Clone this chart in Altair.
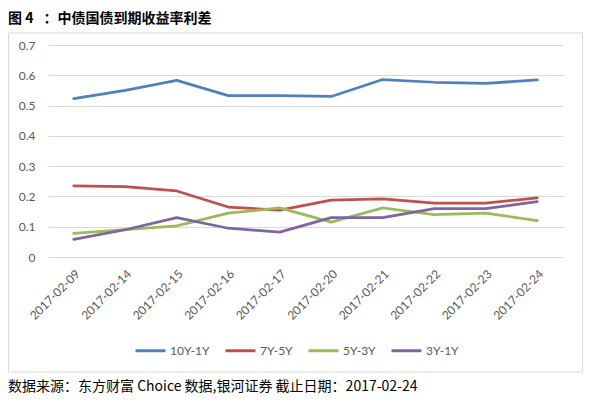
import altair as alt
import pandas as pd

dates = ["2017-02-09", "2017-02-14", "2017-02-15", "2017-02-16", "2017-02-17",
         "2017-02-20", "2017-02-21", "2017-02-22", "2017-02-23", "2017-02-24"]
s10_1 = [0.523, 0.550, 0.583, 0.533, 0.533, 0.530, 0.586, 0.577, 0.573, 0.585]
s7_5 = [0.235, 0.232, 0.218, 0.165, 0.155, 0.188, 0.192, 0.178, 0.178, 0.195]
s5_3 = [0.078, 0.090, 0.103, 0.145, 0.162, 0.115, 0.162, 0.140, 0.145, 0.120]
s3_1 = [0.058, 0.090, 0.130, 0.095, 0.082, 0.130, 0.130, 0.160, 0.160, 0.183]
series_names = ["10Y-1Y", "7Y-5Y", "5Y-3Y", "3Y-1Y"]
colors = ["#4F81BD", "#C0504D", "#9BBB59", "#8064A2"]
y_ticks = [0, 0.1, 0.2, 0.3, 0.4, 0.5, 0.6, 0.7]
title_text = "图 4 \u2002：中债国债到期收益率利差"
footer_text = "数据来源：东方财富 Choice 数据,银河证券  截止日期：2017-02-24"

rows = []
for name, vals in zip(series_names, [s10_1, s7_5, s5_3, s3_1]):
    for d, v in zip(dates, vals):
        rows.append({"date": d, "series": name, "value": v})
df = pd.DataFrame(rows)

lab_font = "Lato"

lines = alt.Chart(df).mark_line(strokeWidth=2.75, strokeJoin="round", strokeCap="round").encode(
    x=alt.X("date:N", sort=dates,
            scale=alt.Scale(type="point", padding=0.5),
            axis=alt.Axis(title=None, labelAngle=-45, grid=False, ticks=False, domain=False,
                          labelPadding=11, labelFontSize=12, labelColor="#595959", labelFont=lab_font)),
    y=alt.Y("value:Q", scale=alt.Scale(domain=[0, 0.7], nice=False),
            axis=alt.Axis(title=None, values=y_ticks, format=".1~f", grid=True, gridColor="#d9d9d9",
                          gridWidth=1, ticks=False, domain=False, labelPadding=13,
                          labelFontSize=12, labelColor="#595959", labelFont=lab_font)),
    color=alt.Color("series:N", sort=series_names,
                    scale=alt.Scale(domain=series_names, range=colors),
                    legend=alt.Legend(title=None, orient="none", legendX=86, legendY=289,
                                      direction="horizontal", symbolType="stroke",
                                      symbolStrokeWidth=3, symbolSize=900,
                                      labelFontSize=12, labelColor="#595959", labelFont=lab_font,
                                      columnPadding=9, labelOffset=3)),
)

frame = alt.Chart(pd.DataFrame({"k": [0]})).mark_rect(
    fill="transparent", stroke="#d9d9d9", strokeWidth=1
).encode(x=alt.value(-39.5), x2=alt.value(534.5), y=alt.value(-12), y2=alt.value(327))

title = alt.Chart(pd.DataFrame({"t": [title_text]})).mark_text(
    align="left", baseline="middle", fontSize=14, fontWeight="bold",
    font="Noto Sans CJK SC", color="#000000"
).encode(text="t:N", x=alt.value(-40), y=alt.value(-26))

footer = alt.Chart(pd.DataFrame({"t": [footer_text]})).mark_text(
    align="left", baseline="middle", fontSize=14,
    font="Noto Sans CJK SC", color="#000000"
).encode(text="t:N", x=alt.value(-40), y=alt.value(342))

chart = alt.layer(frame, lines, title, footer).properties(
    width=515, height=212,
    padding={"left": 40, "top": 37, "right": 30, "bottom": 140},
    autosize=alt.AutoSizeParams(type="none"),
    background="white",
).configure_view(stroke=None)

chart.save("out.html", embed_options={"renderer": "svg", "actions": False})
